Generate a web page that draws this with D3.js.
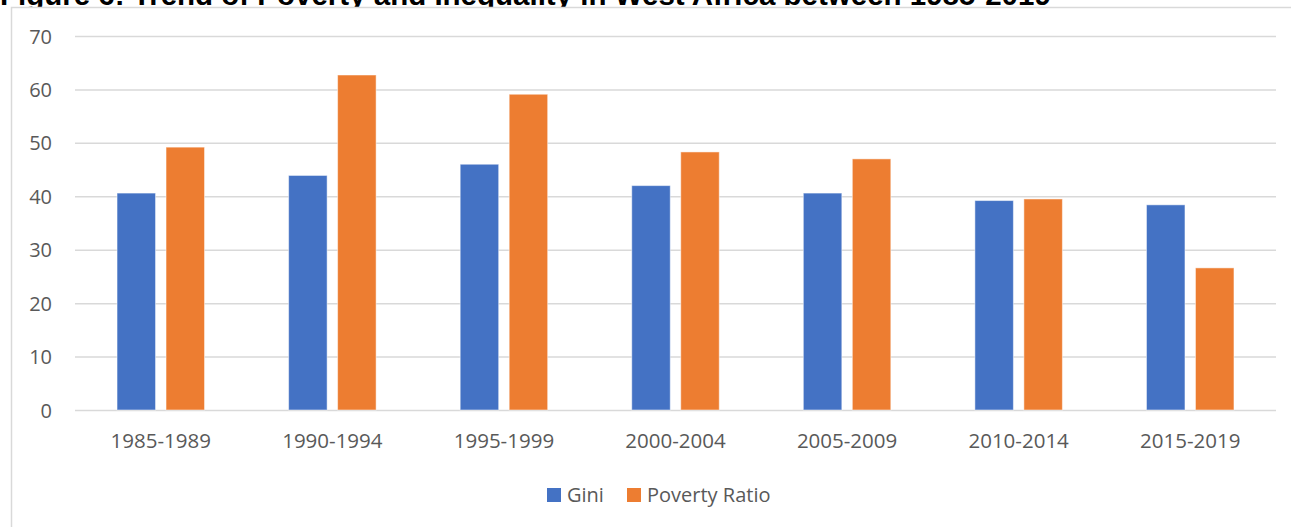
<!DOCTYPE html>
<html>
<head>
<meta charset="utf-8">
<script src="https://cdn.jsdelivr.net/npm/d3@7"></script>
<style>
    html, body { margin: 0; padding: 0; background: #fff; }
    svg { display: block; }
    .tick text, .cat-label, .legend text { font-family: "Open Sans", sans-serif; fill: #595959; }
</style>
</head>
<body>
<svg id="chart" width="1291" height="527"></svg>
<script>
const categories = ['1985-1989', '1990-1994', '1995-1999', '2000-2004', '2005-2009', '2010-2014', '2015-2019']
const seriesNames = ['Gini', 'Poverty Ratio']
const gini = [40.6, 43.9, 46.0, 42.0, 40.6, 39.2, 38.4]
const povertyRatio = [49.2, 62.7, 59.1, 48.3, 47.0, 39.5, 26.6]
const yTicks = [0, 10, 20, 30, 40, 50, 60, 70]
const colors = ['#4472C4', '#ED7D31']

const width = 1291
const height = 527
const margin = { left: 75, right: 15, top: 36, bottom: 117 }

const svg = d3.select('#chart')

// title sits above the chart box and is cut off at the top like the source image
svg.append('text')
    .attr('x', 0)
    .attr('y', 5)
    .attr('font-family', 'Liberation Sans, Arial, sans-serif')
    .attr('font-weight', 'bold')
    .attr('font-size', 29.5)
    .attr('fill', '#000')
    .text('Figure 6: Trend of Poverty and Inequality in West Africa between 1985-2019')

// chart box: white fill hides the title's descenders, only top and left edges visible
svg.append('rect')
    .attr('x', 11.5)
    .attr('y', 7.5)
    .attr('width', width)
    .attr('height', height)
    .attr('fill', '#fff')
    .attr('stroke', '#d9d9d9')
    .attr('stroke-width', 1.5)

const x = d3.scaleBand()
    .domain(categories)
    .range([margin.left, width - margin.right])
    .paddingInner(0.49)
    .paddingOuter(0.245)

const xInner = d3.scaleBand()
    .domain(seriesNames)
    .range([0, x.bandwidth()])
    .paddingInner(0.214)

const y = d3.scaleLinear()
    .domain([0, 70])
    .range([height - margin.bottom, margin.top])

// gridlines + y labels
const yAxis = d3.axisLeft(y)
    .tickValues(yTicks)
    .tickSize(-(width - margin.left - margin.right))
    .tickPadding(23)

svg.append('g')
    .attr('transform', `translate(${margin.left},0)`)
    .call(yAxis)
    .call(g => g.select('.domain').remove())
    .call(g => g.selectAll('.tick line').attr('stroke', '#d9d9d9').attr('stroke-width', 1.5))
    .call(g => g.selectAll('.tick text').attr('font-size', 20).attr('dy', '0.35em'))

const rows = categories.map((c, i) => ({ cat: c, values: [gini[i], povertyRatio[i]] }))

const groups = svg.append('g')
    .selectAll('g')
    .data(rows)
    .join('g')
    .attr('transform', d => `translate(${x(d.cat)},0)`)

groups.selectAll('rect')
    .data(d => d.values.map((v, j) => ({ key: seriesNames[j], value: v, color: colors[j] })))
    .join('rect')
    .attr('x', d => xInner(d.key))
    .attr('width', xInner.bandwidth())
    .attr('y', d => y(d.value))
    .attr('height', d => y(0) - y(d.value))
    .attr('fill', d => d.color)
    .attr('stroke', '#fff')
    .attr('stroke-opacity', 0.5)
    .attr('stroke-width', 1)

// category labels
svg.append('g')
    .selectAll('text')
    .data(categories)
    .join('text')
    .attr('class', 'cat-label')
    .attr('x', d => x(d) + x.bandwidth() / 2)
    .attr('y', 448)
    .attr('text-anchor', 'middle')
    .attr('font-size', 20.5)
    .text(d => d)

// legend
const legendItems = [
    { name: seriesNames[0], color: colors[0], x: 547 },
    { name: seriesNames[1], color: colors[1], x: 627 }
]
const legend = svg.append('g').attr('class', 'legend')
    .selectAll('g')
    .data(legendItems)
    .join('g')
    .attr('transform', d => `translate(${d.x},488)`)

legend.append('rect')
    .attr('width', 14)
    .attr('height', 14)
    .attr('fill', d => d.color)

legend.append('text')
    .attr('x', 20)
    .attr('y', 14)
    .attr('font-size', 20)
    .text(d => d.name)
</script>
</body>
</html>
